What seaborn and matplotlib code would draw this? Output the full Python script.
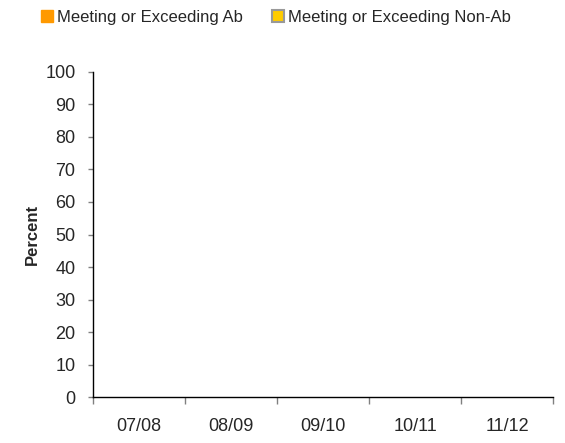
import pandas as pd
import numpy as np
import matplotlib.pyplot as plt
import seaborn as sns
from matplotlib.patches import Patch

# data (all series empty / zero in the reference)
years = ["07/08", "08/09", "09/10", "10/11", "11/12"]
ab_values = [0, 0, 0, 0, 0]
non_ab_values = [0, 0, 0, 0, 0]
series_names = ["Meeting or Exceeding Ab", "Meeting or Exceeding Non-Ab"]
y_ticks = [0, 10, 20, 30, 40, 50, 60, 70, 80, 90, 100]

df = pd.DataFrame({
    "Year": years * 2,
    "Percent": ab_values + non_ab_values,
    "Series": [series_names[0]] * len(years) + [series_names[1]] * len(years),
})

sns.set_style("white")
plt.rcParams['font.family'] = ['Liberation Sans', 'DejaVu Sans']

fig = plt.figure(figsize=(5.65, 4.43), dpi=100)
ax = fig.add_axes([0.1646, 0.1038, 0.8142, 0.7337])

colors = ["#FF9900", "#FFCC00"]
sns.barplot(data=df, x="Year", y="Percent", hue="Series", palette=colors,
            ax=ax, legend=False, linewidth=0)

ax.set_ylim(0, 100)
ax.set_xlim(-0.5, len(years) - 0.5)
ax.set_yticks(y_ticks)
ax.set_yticklabels([str(t) for t in y_ticks], fontsize=13)
ax.set_xticks(range(len(years)))
ax.set_xticklabels(years, fontsize=13)
ax.set_xticks(np.arange(-0.5, len(years)), minor=True)
ax.tick_params(axis="x", which="major", length=0, pad=15)
ax.tick_params(axis="x", which="minor", length=5, width=1, color="#808080", bottom=True)
ax.tick_params(axis="y", which="major", length=3.6, width=1, color="#808080", left=True, pad=9)
ax.set_xlabel("")
ax.set_ylabel("Percent", fontsize=12, fontweight="bold", labelpad=4)

for side in ["top", "right"]:
    ax.spines[side].set_visible(False)
for side in ["left", "bottom"]:
    ax.spines[side].set_color("black")
    ax.spines[side].set_linewidth(1)

handles = [
    Patch(facecolor=colors[0], edgecolor=colors[0], label=series_names[0]),
    Patch(facecolor=colors[1], edgecolor="#999999", linewidth=1.5, label=series_names[1]),
]
fig.legend(handles=handles, loc="upper left", bbox_to_anchor=(0.046, 1.012), ncol=2,
           frameon=False, fontsize=12, handlelength=0.7, handleheight=0.7,
           handletextpad=0.25, columnspacing=1.75)

plt.savefig("out.png", dpi=100)
